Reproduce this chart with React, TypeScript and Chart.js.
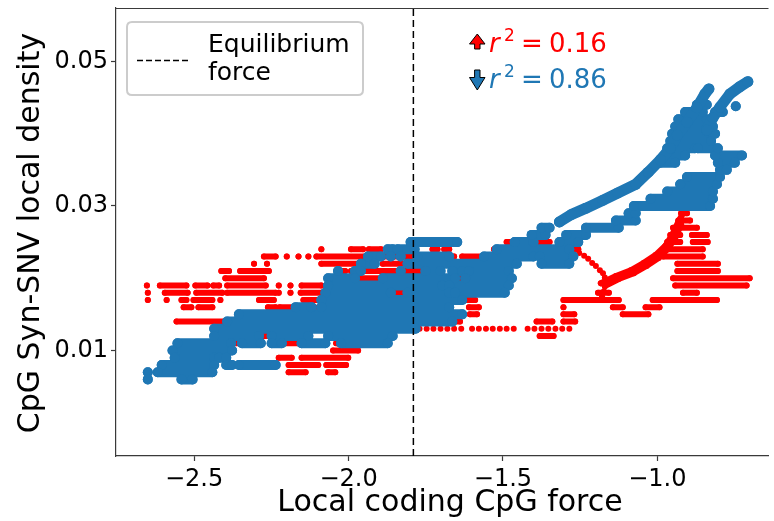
import React, { useEffect, useRef } from 'react';
import { Chart, registerables } from 'chart.js';

Chart.register(...registerables);

type Run = [number, number, number]; // [x start, x end, y]
type Pt = [number, number];

// ---- axes ----
const xTicks = [-2.5, -2.0, -1.5, -1.0];
const yTicks = [0.01, 0.03, 0.05];
const xMin = -2.753;
const xMax = -0.64;
const yMin = -0.0046;
const yMax = 0.0574;
const equilibriumForce = -1.79;

const xTitle = 'Local coding CpG force';
const yTitle = 'CpG Syn-SNV local density';
const legendLines = ['Equilibrium', 'force'];
const r2Up = '0.16';
const r2Down = '0.86';

const RED = '#ff0000';
const BLUE = '#1f77b4';

// ---- "up" series (red): horizontal runs of points at discrete densities ----
const redRuns: Run[] = [
  [-1.488, -1.465, 0.025], [-1.401, -1.349, 0.025],
  [-2.088, -2.088, 0.024], [-1.992, -1.953, 0.024], [-1.934, -1.895, 0.024], [-1.728, -1.712, 0.024], [-1.690, -1.674, 0.024], [-1.529, -1.494, 0.024], [-1.288, -1.256, 0.024],
  [-2.274, -2.236, 0.023], [-2.200, -2.200, 0.023], [-2.162, -2.162, 0.023], [-2.130, -2.130, 0.023], [-2.104, -1.947, 0.023], [-1.921, -1.738, 0.023], [-1.674, -1.658, 0.023], [-1.632, -1.545, 0.023], [-1.488, -1.488, 0.023],
  [-2.306, -2.306, 0.022], [-2.264, -2.264, 0.022], [-2.088, -1.937, 0.022], [-1.889, -1.770, 0.022], [-1.632, -1.513, 0.022],
  [-2.412, -2.387, 0.021], [-2.351, -2.258, 0.021], [-2.034, -2.011, 0.021], [-1.992, -1.770, 0.021], [-1.526, -1.504, 0.021],
  [-2.399, -2.274, 0.020], [-1.992, -1.783, 0.020], [-1.642, -1.610, 0.020], [-1.590, -1.568, 0.020],
  [-2.653, -2.653, 0.019], [-2.611, -2.525, 0.019], [-2.496, -2.457, 0.019], [-2.438, -2.419, 0.019], [-2.393, -2.268, 0.019], [-2.226, -2.226, 0.019], [-2.188, -2.188, 0.019], [-2.152, -2.088, 0.019], [-1.863, -1.728, 0.019], [-1.696, -1.622, 0.019], [-1.568, -1.552, 0.019],
  [-2.650, -2.650, 0.018], [-2.595, -2.521, 0.018], [-2.493, -2.409, 0.018], [-2.393, -2.236, 0.018], [-2.226, -2.226, 0.018], [-2.188, -2.188, 0.018], [-2.155, -2.088, 0.018], [-1.866, -1.655, 0.018], [-1.192, -1.157, 0.018],
  [-2.650, -2.650, 0.017], [-2.589, -2.589, 0.017], [-2.541, -2.525, 0.017], [-2.502, -2.441, 0.017], [-2.415, -2.415, 0.017], [-2.290, -2.242, 0.017], [-2.146, -2.104, 0.017], [-1.632, -1.590, 0.017], [-1.304, -1.125, 0.017], [-1.015, -0.807, 0.017],
  [-2.534, -2.509, 0.016], [-2.486, -2.441, 0.016], [-2.261, -2.236, 0.016], [-2.223, -2.175, 0.016], [-2.139, -2.110, 0.016], [-1.610, -1.578, 0.016], [-1.304, -1.304, 0.016], [-1.144, -1.112, 0.016], [-1.038, -0.993, 0.016],
  [-1.607, -1.584, 0.015], [-1.304, -1.269, 0.015], [-1.112, -1.029, 0.015],
  [-2.557, -2.403, 0.014], [-1.655, -1.639, 0.014], [-1.391, -1.340, 0.014], [-1.304, -1.266, 0.014],
  [-2.290, -2.258, 0.012], [-2.216, -2.155, 0.012], [-2.056, -2.056, 0.012], [-2.018, -2.018, 0.012], [-1.979, -1.979, 0.012], [-1.937, -1.937, 0.012], [-1.381, -1.336, 0.012],
  [-2.377, -2.300, 0.011], [-2.249, -2.162, 0.011], [-2.040, -1.976, 0.011],
  [-2.050, -1.969, 0.010],
  [-2.226, -2.184, 0.009], [-2.152, -2.001, 0.009],
  [-2.194, -2.098, 0.008], [-2.072, -2.008, 0.008],
  [-2.194, -2.139, 0.007], [-2.066, -2.043, 0.007],
  // right-hand cluster
  [-0.923, -0.904, 0.029], [-0.932, -0.894, 0.028], [-0.949, -0.872, 0.027],
  [-0.958, -0.926, 0.026], [-0.888, -0.840, 0.026],
  [-0.968, -0.926, 0.025], [-0.885, -0.837, 0.025],
  [-0.981, -0.853, 0.024], [-0.981, -0.853, 0.023],
  [-0.935, -0.804, 0.022], [-0.935, -0.804, 0.021],
  [-0.949, -0.701, 0.020], [-0.942, -0.711, 0.019], [-0.917, -0.872, 0.018],
];

// isolated red points: the dotted row at 0.013 and the falling diagonal near -1.2
const redDotsX013 = [-1.770, -1.747, -1.725, -1.702, -1.680, -1.658, -1.635, -1.600, -1.578, -1.555, -1.533, -1.510, -1.488, -1.465, -1.420, -1.398, -1.375, -1.353, -1.330, -1.308, -1.285];
const redDiagonal: Pt[] = [
  [-1.285, 0.0245], [-1.269, 0.0239], [-1.253, 0.0235], [-1.237, 0.0231], [-1.224, 0.0227], [-1.211, 0.0221], [-1.199, 0.0217],
  [-1.186, 0.0211], [-1.176, 0.0207], [-1.170, 0.0201], [-1.167, 0.0196], [-1.170, 0.0189], [-1.173, 0.0182], [-1.179, 0.0175],
];

// red rising trace
const redStrokes: Pt[][] = [
  [[-1.183, 0.0193], [-1.134, 0.0203], [-1.086, 0.0211], [-1.045, 0.0221], [-1.006, 0.0232], [-0.974, 0.0245], [-0.952, 0.0260], [-0.932, 0.0278], [-0.917, 0.0290]],
  [[-1.170, 0.0189], [-1.125, 0.0199], [-1.076, 0.0207], [-1.035, 0.0217], [-0.996, 0.0228], [-0.965, 0.0241], [-0.942, 0.0256], [-0.923, 0.0274]],
];

// ---- "down" series (blue) ----
const blueRuns: Run[] = [
  [-1.799, -1.648, 0.025], [-1.462, -1.401, 0.025], [-1.317, -1.256, 0.025],
  [-1.873, -1.857, 0.024], [-1.841, -1.786, 0.024], [-1.520, -1.285, 0.024],
  [-1.937, -1.895, 0.023], [-1.863, -1.863, 0.023], [-1.831, -1.831, 0.023], [-1.777, -1.674, 0.023], [-1.561, -1.401, 0.023], [-1.381, -1.272, 0.023],
  [-1.960, -1.915, 0.022], [-1.809, -1.455, 0.022], [-1.375, -1.285, 0.022],
  [-2.034, -2.034, 0.021], [-1.979, -1.960, 0.021], [-1.831, -1.831, 0.021], [-1.751, -1.702, 0.021], [-1.664, -1.632, 0.021], [-1.610, -1.481, 0.021],
  [-2.066, -1.979, 0.020], [-1.889, -1.655, 0.020], [-1.622, -1.471, 0.020],
  [-2.066, -1.696, 0.019], [-1.674, -1.481, 0.019],
  [-2.075, -1.863, 0.018], [-1.809, -1.674, 0.018], [-1.655, -1.494, 0.018],
  [-2.088, -1.632, 0.017],
  [-2.171, -2.120, 0.016], [-2.088, -1.674, 0.016],
  [-2.355, -1.632, 0.015],
  [-2.393, -1.664, 0.014],
  [-2.435, -1.783, 0.013],
  [-2.435, -2.290, 0.012], [-2.249, -2.130, 0.012], [-2.066, -1.857, 0.012],
  [-2.554, -2.380, 0.011], [-2.345, -2.284, 0.011], [-2.249, -2.216, 0.011], [-2.152, -2.075, 0.011], [-2.024, -1.873, 0.011],
  [-2.570, -2.377, 0.010],
  [-2.563, -2.435, 0.009], [-2.419, -2.396, 0.009],
  [-2.605, -2.435, 0.008], [-2.396, -2.377, 0.008], [-2.355, -2.236, 0.008],
  [-2.650, -2.650, 0.007], [-2.618, -2.441, 0.007],
  [-2.650, -2.650, 0.006], [-2.541, -2.505, 0.006],
  [-1.407, -1.362, 0.026], [-1.295, -1.231, 0.026],
  [-1.375, -1.349, 0.027], [-1.231, -1.125, 0.027],
  [-1.134, -1.070, 0.028],
  [-1.093, -1.070, 0.029],
  [-1.076, -0.829, 0.030],
  [-1.022, -0.820, 0.031],
  [-0.968, -0.820, 0.032],
  [-0.926, -0.807, 0.033],
  [-0.904, -0.797, 0.034],
  [-0.797, -0.775, 0.035],
  [-0.990, -0.942, 0.036], [-0.804, -0.749, 0.036],
  [-0.974, -0.910, 0.037], [-0.813, -0.726, 0.037],
  [-0.968, -0.878, 0.038], [-0.869, -0.804, 0.038],
  [-0.958, -0.826, 0.039],
  [-0.952, -0.813, 0.040],
  [-0.942, -0.820, 0.041],
  [-0.932, -0.840, 0.042],
  [-0.910, -0.853, 0.043], [-0.813, -0.788, 0.043],
  [-0.872, -0.840, 0.044],
  [-0.746, -0.746, 0.0438],
];

const blueStrokes: Pt[][] = [
  [[-1.317, 0.0278], [-1.279, 0.0288], [-1.231, 0.0297], [-1.176, 0.0308], [-1.128, 0.0318], [-1.070, 0.0330], [-1.029, 0.0347], [-0.990, 0.0364], [-0.958, 0.0380], [-0.935, 0.0398], [-0.904, 0.0416], [-0.872, 0.0436], [-0.846, 0.0455], [-0.833, 0.0462]],
  [[-0.840, 0.0405], [-0.820, 0.0422], [-0.797, 0.0437], [-0.765, 0.0455], [-0.733, 0.0465], [-0.707, 0.0472]],
];

type P = { x: number; y: number | null };

function runsToData(runs: Run[]): P[] {
  const out: P[] = [];
  for (const [x1, x2, y] of runs) {
    out.push({ x: x1, y });
    if (x2 !== x1) out.push({ x: x2, y });
    out.push({ x: x2, y: null });
  }
  return out;
}

function strokesToData(strokes: Pt[][]): P[] {
  const out: P[] = [];
  for (const s of strokes) {
    for (const [x, y] of s) out.push({ x, y });
    out.push({ x: s[s.length - 1][0], y: null });
  }
  return out;
}

function series(data: P[], color: string, width: number, order: number, line = true) {
  return {
    data,
    showLine: line,
    spanGaps: false,
    borderColor: color,
    backgroundColor: color,
    borderWidth: width,
    borderCapStyle: 'round',
    borderJoinStyle: 'round',
    pointRadius: width / 2,
    pointHoverRadius: width / 2,
    pointBorderWidth: 0,
    pointBackgroundColor: color,
    tension: 0,
    order,
  };
}

const FONT = '"DejaVu Sans", "Liberation Sans", sans-serif';
const FRAME = '#3a3a3a';

const decor = {
  id: 'decor',
  afterDraw(chart: any) {
    const ctx: CanvasRenderingContext2D = chart.ctx;
    const a = chart.chartArea;
    ctx.save();
    // top frame line
    ctx.strokeStyle = FRAME;
    ctx.lineWidth = 1.2;
    ctx.beginPath();
    ctx.moveTo(a.left, a.top + 0.5);
    ctx.lineTo(a.right, a.top + 0.5);
    ctx.stroke();

    // legend box
    const bx = 127, by = 22, bw = 236, bh = 73, br = 5;
    ctx.beginPath();
    ctx.moveTo(bx + br, by);
    ctx.lineTo(bx + bw - br, by);
    ctx.quadraticCurveTo(bx + bw, by, bx + bw, by + br);
    ctx.lineTo(bx + bw, by + bh - br);
    ctx.quadraticCurveTo(bx + bw, by + bh, bx + bw - br, by + bh);
    ctx.lineTo(bx + br, by + bh);
    ctx.quadraticCurveTo(bx, by + bh, bx, by + bh - br);
    ctx.lineTo(bx, by + br);
    ctx.quadraticCurveTo(bx, by, bx + br, by);
    ctx.closePath();
    ctx.fillStyle = 'rgba(255,255,255,0.8)';
    ctx.fill();
    ctx.strokeStyle = '#cccccc';
    ctx.lineWidth = 2;
    ctx.stroke();

    ctx.strokeStyle = '#000';
    ctx.lineWidth = 1.5;
    ctx.setLineDash([6, 3]);
    ctx.beginPath();
    ctx.moveTo(137, 60.5);
    ctx.lineTo(188, 60.5);
    ctx.stroke();
    ctx.setLineDash([]);

    ctx.fillStyle = '#000';
    ctx.font = `25px ${FONT}`;
    ctx.textAlign = 'left';
    ctx.textBaseline = 'alphabetic';
    ctx.fillText(legendLines[0], 208, 52);
    ctx.fillText(legendLines[1], 208, 80);

    // r^2 annotations
    const drawR2 = (val: string, color: string, base: number) => {
      ctx.fillStyle = color;
      ctx.font = `italic 26px ${FONT}`;
      ctx.fillText('r', 489, base);
      ctx.font = `17px ${FONT}`;
      ctx.fillText('2', 504, base - 11);
      ctx.font = `26px ${FONT}`;
      ctx.fillText('=', 521, base);
      ctx.fillText(val, 549, base);
    };
    drawR2(r2Up, RED, 52);
    drawR2(r2Down, BLUE, 88);

    // arrows
    ctx.lineWidth = 1;
    ctx.strokeStyle = '#000';
    ctx.fillStyle = RED;
    ctx.beginPath();
    ctx.moveTo(477.3, 34);
    ctx.lineTo(485, 44);
    ctx.lineTo(480, 44);
    ctx.lineTo(480, 49);
    ctx.lineTo(474.6, 49);
    ctx.lineTo(474.6, 44);
    ctx.lineTo(469.5, 44);
    ctx.closePath();
    ctx.fill();
    ctx.stroke();

    ctx.fillStyle = BLUE;
    ctx.beginPath();
    ctx.moveTo(474.6, 70);
    ctx.lineTo(480, 70);
    ctx.lineTo(480, 77.5);
    ctx.lineTo(485, 77.5);
    ctx.lineTo(477.3, 90);
    ctx.lineTo(469.5, 77.5);
    ctx.lineTo(474.6, 77.5);
    ctx.closePath();
    ctx.fill();
    ctx.stroke();

    // axis titles
    ctx.fillStyle = '#000';
    ctx.font = `30px ${FONT}`;
    ctx.textAlign = 'center';
    ctx.fillText(xTitle, 450, 511);
    ctx.save();
    ctx.translate(39, 233);
    ctx.rotate(-Math.PI / 2);
    ctx.fillText(yTitle, 0, 0);
    ctx.restore();

    ctx.restore();
  },
};

export default function App() {
  const ref = useRef<HTMLCanvasElement>(null);
  useEffect(() => {
    document.body.style.margin = '0';
    const canvas = ref.current;
    if (!canvas) return;
    const redDots: P[] = [
      ...redDotsX013.map((x) => ({ x, y: 0.013 })),
      ...redDiagonal.map(([x, y]) => ({ x, y })),
    ];
    const chart = new Chart(canvas, {
      type: 'scatter',
      data: {
        datasets: [
          {
            data: [
              { x: equilibriumForce, y: yMin },
              { x: equilibriumForce, y: yMax },
            ],
            showLine: true,
            borderColor: '#000',
            borderWidth: 1.5,
            borderDash: [7, 4],
            pointRadius: 0,
            order: 0,
          } as any,
          series(strokesToData(blueStrokes), BLUE, 11, 1) as any,
          series(runsToData(blueRuns), BLUE, 10, 2) as any,
          series(strokesToData(redStrokes), RED, 6, 3) as any,
          series(runsToData(redRuns), RED, 6, 4) as any,
          series(redDots, RED, 6, 5, false) as any,
        ],
      },
      options: {
        animation: false,
        responsive: false,
        devicePixelRatio: 1,
        events: [],
        layout: { padding: { top: 8, left: 0, right: 0, bottom: 0 } },
        plugins: {
          legend: { display: false },
          tooltip: { enabled: false },
        },
        scales: {
          x: {
            type: 'linear',
            min: xMin,
            max: xMax,
            afterBuildTicks: (s: any) => {
              s.ticks = xTicks.map((v) => ({ value: v }));
            },
            afterFit: (s: any) => {
              s.height = 65;
              s.paddingLeft = 0;
              s.paddingRight = 0;
              s.paddingTop = 0;
              s.paddingBottom = 0;
            },
            ticks: {
              color: '#000',
              font: { family: FONT, size: 24 },
              padding: 4,
              maxRotation: 0,
              autoSkip: false,
              callback: (v: any) => (Number(v) < 0 ? '\u2212' : '') + Math.abs(Number(v)).toFixed(1),
            },
            grid: {
              display: true,
              drawOnChartArea: false,
              drawTicks: true,
              tickLength: 5,
              tickColor: FRAME,
              tickWidth: 1.2,
            },
            border: { display: true, color: FRAME, width: 1.2 },
          },
          y: {
            type: 'linear',
            min: yMin,
            max: yMax,
            afterBuildTicks: (s: any) => {
              s.ticks = yTicks.map((v) => ({ value: v }));
            },
            afterFit: (s: any) => {
              s.width = 116;
              s.paddingLeft = 0;
              s.paddingRight = 0;
              s.paddingTop = 0;
              s.paddingBottom = 0;
            },
            ticks: {
              color: '#000',
              font: { family: FONT, size: 24 },
              padding: 3,
              autoSkip: false,
              callback: (v: any) => Number(v).toFixed(2),
            },
            grid: {
              display: true,
              drawOnChartArea: false,
              drawTicks: true,
              tickLength: 5,
              tickColor: FRAME,
              tickWidth: 1.2,
            },
            border: { display: true, color: FRAME, width: 1.2 },
          },
        },
      } as any,
      plugins: [decor],
    });
    return () => chart.destroy();
  }, []);
  return (
    <div style={{ position: 'absolute', left: 0, top: 0, width: 774, height: 521, background: '#fff' }}>
      <canvas ref={ref} width={774} height={521} style={{ display: 'block', width: 774, height: 521 }} />
    </div>
  );
}
